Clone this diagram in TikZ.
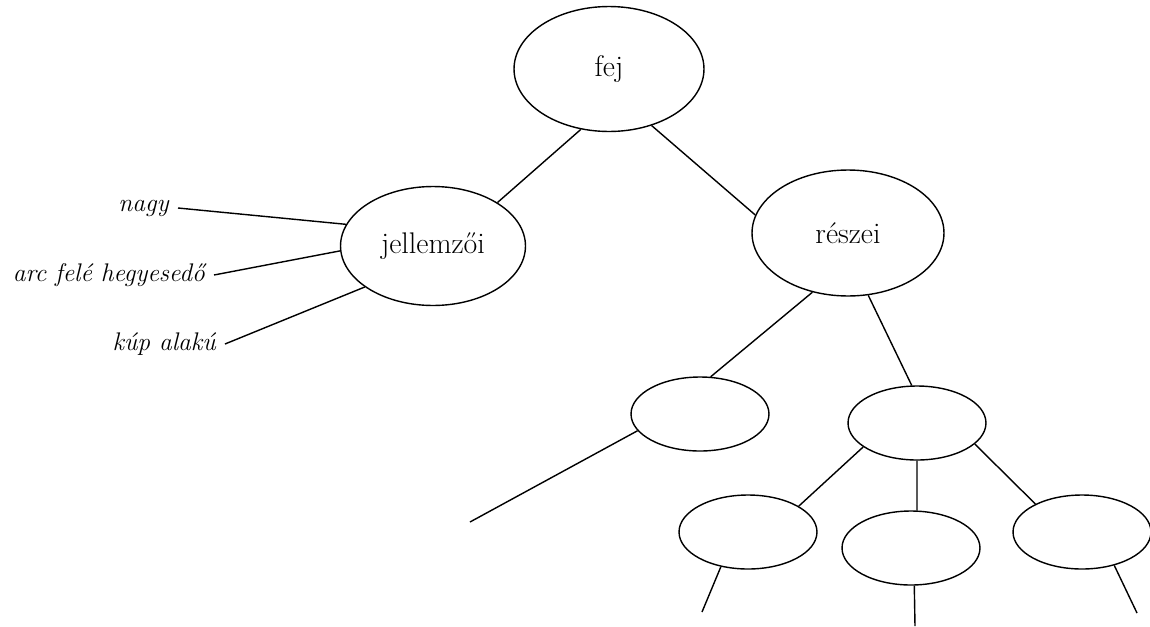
\documentclass[tikz,border=0pt]{standalone}
\usetikzlibrary{shapes.geometric}
\begin{document}
\begin{tikzpicture}[x=0.02cm,y=-0.02cm,line width=0.8pt,
		bubble/.style={draw,ellipse,inner sep=0pt,font=\fontsize{17}{20}\selectfont},
		bigbubble/.style={bubble,minimum width=3.8cm,minimum height=2.5cm},
		midbubble/.style={bubble,minimum width=3.7cm,minimum height=2.38cm},
		emptybubble/.style={bubble,minimum width=2.76cm,minimum height=1.48cm},
		feature/.style={anchor=east,inner sep=0.17cm,font=\fontsize{14.5}{17}\selectfont\itshape}]
		\useasboundingbox (0,0) rectangle (1150,626);
		\node[bigbubble] (fej) at (609,69) {fej};
		\node[midbubble] (jell) at (433,246) {jellemzői};
		\node[bigbubble,minimum width=3.84cm,minimum height=2.52cm] (reszei) at (848,233) {részei};
		\node[emptybubble] (ll) at (700,414) {};
		\node[emptybubble] (rm) at (917,423) {};
		\node[emptybubble] (bl) at (748,532) {};
		\node[emptybubble] (bm) at (911,548) {};
		\node[emptybubble] (br) at (1082,532) {};
		\node[feature] (nagy) at (178,208) {nagy};
		\node[feature] (arc) at (214,275) {arc felé hegyesedő};
		\node[feature] (kup) at (225,344) {kúp alakú};
		\coordinate (llend) at (470,522);
		\coordinate (blend) at (702,612);
		\coordinate (bmend) at (915,626);
		\coordinate (brend) at (1137,613);
		\draw (fej.245) -- (jell.34);
		\draw (fej.307) -- (reszei.169);
		\draw (nagy.east) -- (jell.166);
		\draw (arc.east) -- (jell.183);
		\draw (kup.east) -- (jell.211);
		\draw (reszei.239) -- (ll.74);
		\draw (reszei.288) -- (rm.98);
		\draw (ll.195) -- (llend);
		\draw (rm.204) -- (bl.27);
		\draw (rm.270) -- (bm.81);
		\draw (rm.340) -- (br.149);
		\draw (bl.232) -- (blend);
		\draw (bm.275) -- (bmend);
		\draw (br.314) -- (brend);
	\end{tikzpicture}
\end{document}
